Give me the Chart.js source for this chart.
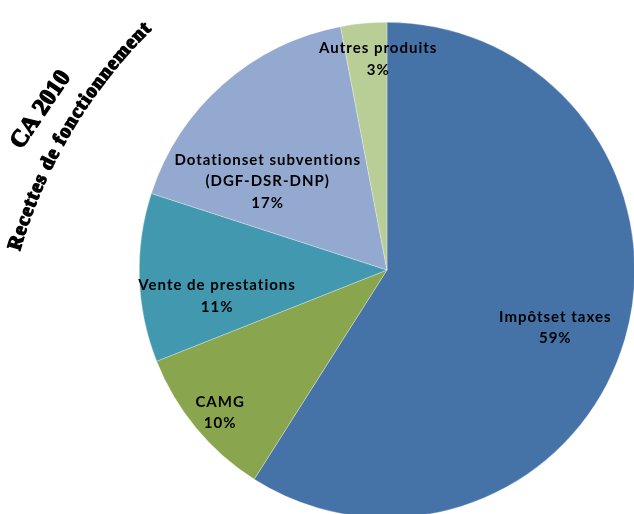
<!DOCTYPE html>
<html>
<head>
<meta charset="utf-8">
<script src="https://cdn.jsdelivr.net/npm/chart.js@4"></script>
<style>
  html, body { margin: 0; padding: 0; background: #fff; overflow: hidden; }
  #wrap { position: relative; width: 640px; height: 530px; }
</style>
</head>
<body>
<div id="wrap"><canvas id="myPieChart"></canvas></div>
<script>
// data
var categories = ['Impôtset taxes', 'CAMG', 'Vente de prestations', 'Dotationset subventions', 'Autres produits'];
var labelLines = [['Impôtset taxes'], ['CAMG'], ['Vente de prestations'], ['Dotationset subventions', '(DGF-DSR-DNP)'], ['Autres produits']];
var shares = [59, 10, 11, 17, 3];
var colors = ['#4572A7', '#89A54E', '#4198AF', '#93A9CF', '#B9CD96'];

var titleTop = 'CA 2010';
var titleArc = 'Recettes de fonctionnement';

// where the label sits: fraction of radius along the slice middle, plus a nudge
var labelPos = [
  { f: 0.72, dx: -3, dy: 8 },
  { f: 0.89, dx: 3, dy: 2 },
  { f: 0.69, dx: 1, dy: 21 },
  { f: 0.60, dx: -21, dy: 23 },
  { f: 0.85, dx: 11, dy: -1 }
];

var sliceLabels = {
  id: 'sliceLabels',
  afterDatasetsDraw: function(chart) {
    var ctx = chart.ctx;
    var arcs = chart.getDatasetMeta(0).data;
    ctx.save();
    ctx.font = 'bold 15px Lato';
    ctx.letterSpacing = '1px';
    ctx.fillStyle = '#000';
    ctx.textAlign = 'center';
    ctx.textBaseline = 'middle';
    arcs.forEach(function(arc, i) {
      var mid = (arc.startAngle + arc.endAngle) / 2;
      var p = labelPos[i];
      var cx = arc.x + Math.cos(mid) * arc.outerRadius * p.f + p.dx;
      var cy = arc.y + Math.sin(mid) * arc.outerRadius * p.f + p.dy;
      var lines = labelLines[i].concat([shares[i] + '%']);
      var lh = 21.5;
      var y0 = cy - (lines.length - 1) * lh / 2;
      lines.forEach(function(t, k) {
        ctx.fillText(t, cx, y0 + k * lh);
      });
    });
    ctx.restore();
  }
};

var sideTitle = {
  id: 'sideTitle',
  afterDraw: function(chart) {
    var ctx = chart.ctx;
    ctx.save();
    ctx.fillStyle = '#000';
    ctx.strokeStyle = '#000';
    ctx.lineWidth = 1.4;
    ctx.lineJoin = 'round';
    ctx.textAlign = 'center';
    ctx.textBaseline = 'middle';

    // straight rotated line
    ctx.save();
    ctx.font = 'bold 24px "Liberation Serif"';
    ctx.translate(41, 110);
    ctx.rotate(-55.7 * Math.PI / 180);
    ctx.fillText(titleTop, 0, 0);
    ctx.strokeText(titleTop, 0, 0);
    ctx.restore();

    // curved line
    ctx.font = 'bold 20px "Liberation Serif"';
    var ccx = 507, ccy = 391, R = 512;
    var a0 = 196.0 * Math.PI / 180, a1 = 225.5 * Math.PI / 180;
    var total = ctx.measureText(titleArc).width;
    var arcLen = R * (a1 - a0);
    var gap = (arcLen - total) / (titleArc.length - 1);
    var s = 0;
    for (var i = 0; i < titleArc.length; i++) {
      var ch = titleArc[i];
      var w = ctx.measureText(ch).width;
      var ang = a0 + (s + w / 2) / R;
      ctx.save();
      ctx.translate(ccx + Math.cos(ang) * R, ccy + Math.sin(ang) * R);
      ctx.rotate(ang + Math.PI / 2);
      ctx.fillText(ch, 0, 0);
      ctx.strokeText(ch, 0, 0);
      ctx.restore();
      s += w + gap;
    }
    ctx.restore();
  }
};

var pct = document.getElementById('myPieChart').getContext('2d');
var pchart = new Chart(pct, {
  type: 'pie',
  data: {
    labels: categories,
    datasets: [{
      data: shares,
      backgroundColor: colors,
      borderColor: 'rgba(255,255,255,0.6)',
      borderWidth: 0.5
    }]
  },
  options: {
    responsive: true,
    maintainAspectRatio: false,
    animation: false,
    layout: { padding: { left: 139, top: 22, right: 5, bottom: 12 } },
    plugins: {
      legend: { display: false },
      tooltip: { enabled: false }
    }
  },
  plugins: [sliceLabels, sideTitle]
});
</script>
</body>
</html>
